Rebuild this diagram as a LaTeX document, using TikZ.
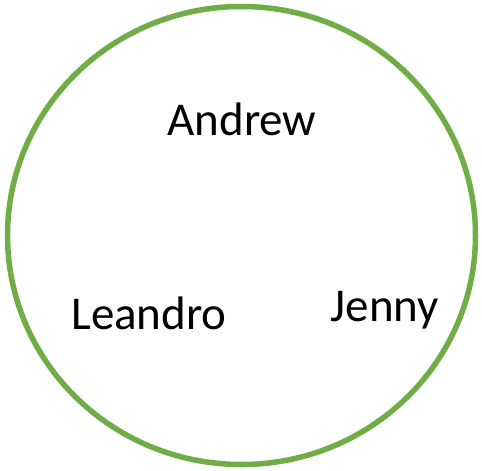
\documentclass[tikz,border=0pt]{standalone}
\usepackage{fontspec}
\setmainfont{Carlito}
\definecolor{ringgreen}{HTML}{70AD47}
\begin{document}
\begin{tikzpicture}[x=1pt,y=-1pt,
  personname/.style={anchor=base,inner sep=0pt,font=\fontsize{47}{56}\selectfont}]
\useasboundingbox (0,0) rectangle (482,471);
\draw[ringgreen,line width=5.5pt] (241.5,235.5) ellipse[x radius=234,y radius=229];
\node[personname] (andrew) at (242,135) {Andrew};
\node[personname] (leandro) at (149,329) {Leandro};
\node[personname] (jenny) at (385,321) {Jenny};
\end{tikzpicture}
\end{document}
